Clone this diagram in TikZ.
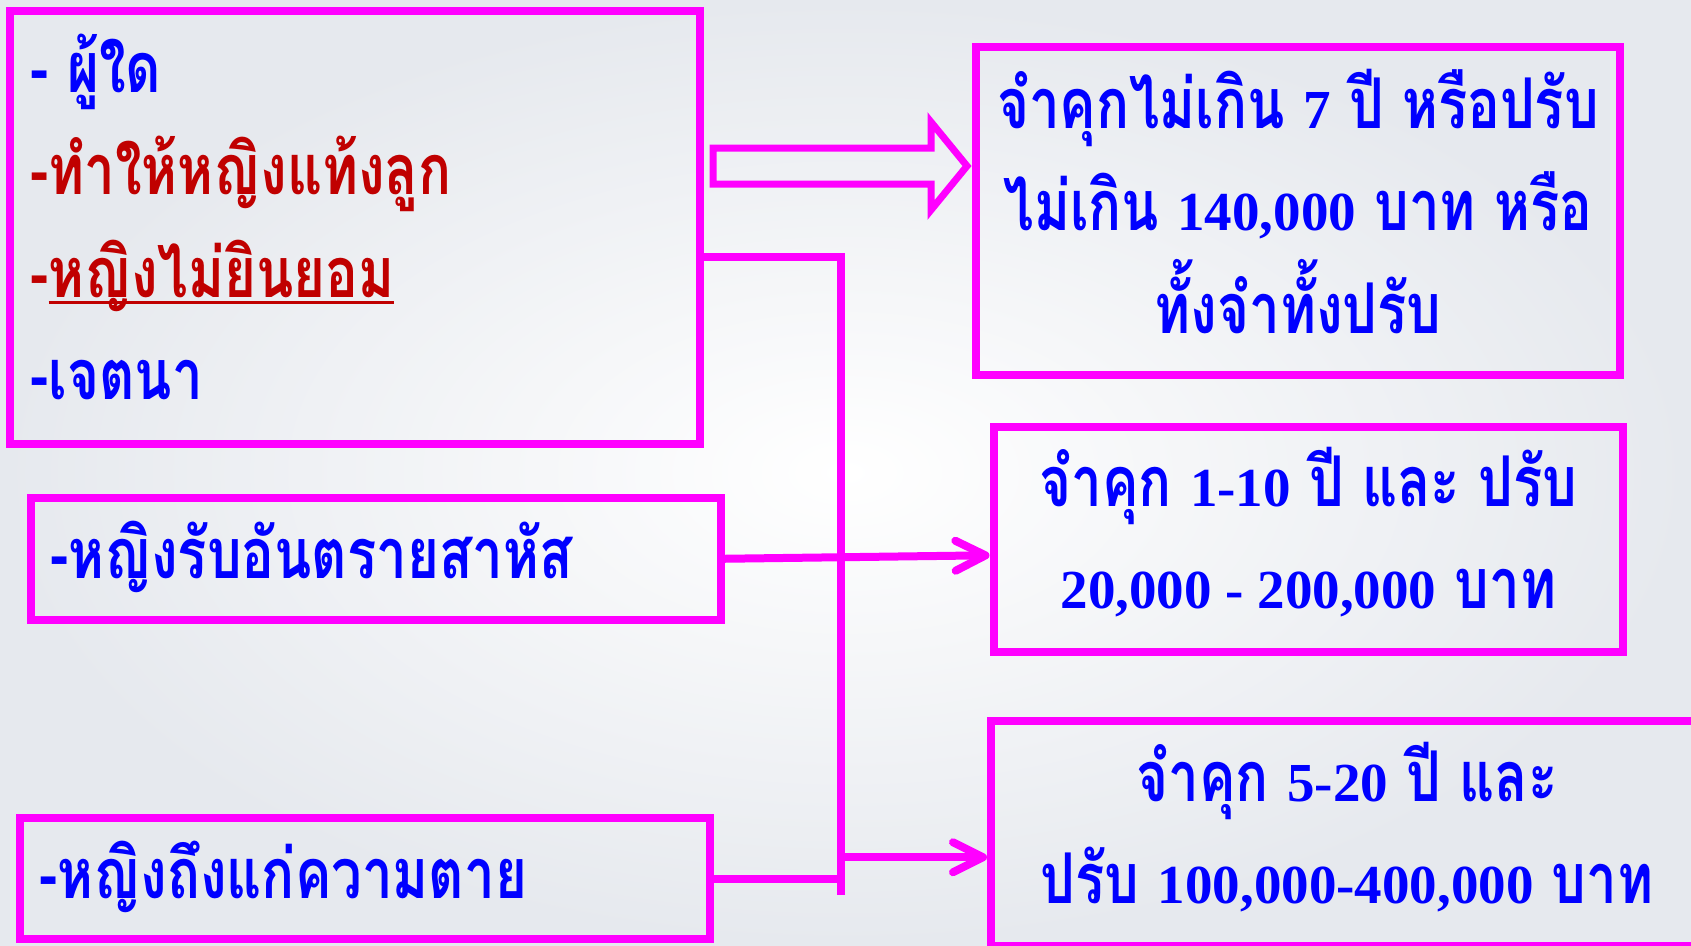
\documentclass[tikz,border=0pt]{standalone}
\usepackage{fontspec}
\usepackage{tikz}
\usetikzlibrary{arrows.meta}
\newfontfamily\thaifont[Script=Thai, FakeStretch=0.78]{Loma}
\newfontfamily\numfont{Liberation Serif}
\definecolor{boxpink}{RGB}{255,0,255}
\definecolor{textblue}{RGB}{0,0,255}
\definecolor{textred}{RGB}{192,0,0}
\definecolor{bgedge}{RGB}{230,233,238}
\newcommand{\bigthai}{\thaifont\bfseries\fontsize{70}{102.5}\selectfont}
\newcommand{\nm}[1]{{\numfont\bfseries\fontsize{55}{102.5}\selectfont #1}}
\newlength{\ulwidth}
\newcommand{\ulthai}[1]{\settowidth{\ulwidth}{#1}\rlap{\rule[-6.5pt]{\ulwidth}{3pt}}#1}
\tikzstyle{box} = [rectangle, draw=boxpink, line width=8pt, inner sep=0pt]
\tikzstyle{link} = [draw=boxpink, line width=8pt]
\tikzstyle{arrow} = [link, -{Straight Barb[length=30pt, width=30pt, round]}]
\tikzstyle{fatarrow} = [draw=boxpink, line width=7pt, line join=miter]

\begin{document}
\begin{tikzpicture}[x=1pt, y=-1pt, font=\bigthai, text=textblue]
\useasboundingbox (0,0) rectangle (1691,945);
\shade[inner color=white, outer color=bgedge] (0,0) rectangle (1691,945);
\clip (0,0) rectangle (1691,945);

% left column
\node(crime) [box, minimum width=690pt, minimum height=432.5pt, text width=648pt, align=flush left, text height=60pt, text depth=330.5pt] at (354.5,227.25) {- ผู้ใด\\
\textcolor{textred}{-ทำให้หญิงแท้งลูก}\\
\textcolor{textred}{-\ulthai{หญิงไม่ยินยอม}}\\
-เจตนา};
\node(harm) [box, minimum width=690pt, minimum height=122.5pt, text width=651pt, align=flush left, text height=50pt, text depth=11.5pt] at (376,558.75) {-หญิงรับอันตรายสาหัส};
\node(death) [box, minimum width=690.5pt, minimum height=121pt, text width=650pt, align=flush left, text height=50pt, text depth=11pt] at (364.75,878.5) {-หญิงถึงแก่ความตาย};

% right column
\node(jail7) [box, minimum width=644pt, minimum height=328pt, text width=640pt, align=flush center, text height=60pt, text depth=226pt] at (1298,211) {จำคุกไม่เกิน \nm{7} ปี หรือปรับ\\ไม่เกิน \nm{140,000} บาท หรือ\\ทั้งจำทั้งปรับ};
\node(jail10) [box, minimum width=629.5pt, minimum height=225.4pt, text width=620pt, align=flush center, text height=60pt, text depth=126.6pt] at (1308.25,539.3) {จำคุก \nm{1-10} ปี และ ปรับ\\\nm{20,000 - 200,000} บาท};
\node(jail20) [box, minimum width=712pt, minimum height=225.5pt, text width=700pt, align=flush center, text height=60pt, text depth=124.5pt] at (1347,833.25) {จำคุก \nm{5-20} ปี และ\\ปรับ \nm{100,000-400,000} บาท};

% connectors
\coordinate (trunk) at (841,895);
\draw[fatarrow] ([xshift=-5pt, yshift=45pt]jail7.west) -- ++(-36,-44) -- ++(0,26) -- ++(-218,0) -- ++(0,36) -- ++(218,0) -- ++(0,26) -- cycle;
\draw[link] ([yshift=-30pt]crime.east) -| (trunk);
\draw[link] (death.east) -- (death.east -| trunk);
\draw[arrow] (harm.east) -- ([yshift=-16pt]jail10.west);
\draw[arrow] ([yshift=-24pt]jail20.west -| trunk) -- ([yshift=-24pt]jail20.west);
\end{tikzpicture}
\end{document}
